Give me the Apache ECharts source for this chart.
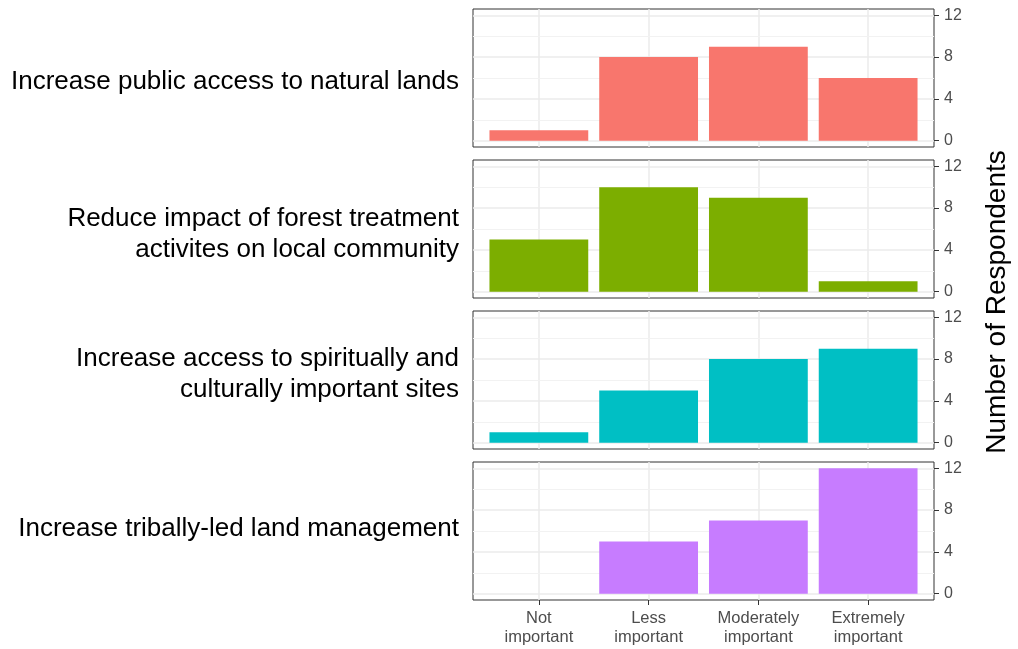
<!DOCTYPE html>
<html><head><meta charset="utf-8">
<script src="https://cdn.jsdelivr.net/npm/echarts@6/dist/echarts.min.js"></script>
<style>html,body{margin:0;padding:0;background:#fff}#c{width:1018px;height:649px}</style>
</head><body><div id="c"></div>
<script>
const categories = ['Not\nimportant', 'Less\nimportant', 'Moderately\nimportant', 'Extremely\nimportant'];
const panelLabels = [
  'Increase public access to natural lands',
  'Reduce impact of forest treatment\nactivites on local community',
  'Increase access to spiritually and\nculturally important sites',
  'Increase tribally-led land management'
];
const valuesPublicAccess = [1, 8, 9, 6];
const valuesForestImpact = [5, 10, 9, 1];
const valuesSpiritualSites = [1, 5, 8, 9];
const valuesTribalMgmt = [0, 5, 7, 12];
const panelValues = [valuesPublicAccess, valuesForestImpact, valuesSpiritualSites, valuesTribalMgmt];
const panelColors = ['#F8766D', '#7CAE00', '#00BFC4', '#C77CFF'];
const yTicks = [0, 4, 8, 12];
const yMinorTicks = [2, 6, 10];
const xTicks = [0, 1, 2, 3];
const yAxisTitle = 'Number of Respondents';

const panelTop = [9, 160, 311, 462];
const panelH = 138;
const labelCenterY = [82, 234, 374, 529];
const gridLeft = 473, gridRight = 84;
const FONT = '"Liberation Sans", Arial, sans-serif';

const grids = [], xAxes = [], yAxes = [], series = [], graphics = [];
panelValues.forEach((vals, p) => {
  grids.push({left: gridLeft, right: gridRight, top: panelTop[p], height: panelH,
    show: true, borderColor: '#333', borderWidth: 1, backgroundColor: 'transparent', containLabel: false});
  const isBottom = p === 3;
  xAxes.push({
    type: 'value', gridIndex: p, min: -0.6, max: 3.6, position: 'bottom',
    axisLine: {show: false, onZero: false},
    axisTick: {show: isBottom, customValues: xTicks, length: 5, lineStyle: {color: '#333', width: 1}},
    axisLabel: {show: isBottom, customValues: xTicks, color: '#4D4D4D', fontSize: 16.5,
      fontFamily: FONT, lineHeight: 19, margin: 9,
      formatter: v => (Number.isInteger(v) && categories[v] !== undefined) ? categories[v] : ''},
    splitLine: {show: true, lineStyle: {color: '#EBEBEB', width: 1.5}}
  });
  yAxes.push({
    type: 'value', gridIndex: p, min: -0.6, max: 12.6, position: 'right',
    axisLine: {show: false, onZero: false},
    axisTick: {show: true, customValues: yTicks, length: 5, lineStyle: {color: '#333', width: 1}},
    axisLabel: {show: true, customValues: yTicks, color: '#4D4D4D', fontSize: 16,
      fontFamily: FONT, margin: 10},
    splitLine: {show: true, lineStyle: {color: '#EBEBEB', width: 1.5}},
    z: 2
  });
  yAxes.push({
    type: 'value', gridIndex: p, min: -0.6, max: 12.6, position: 'right',
    axisLine: {show: false, onZero: false},
    axisTick: {show: false, customValues: yMinorTicks},
    axisLabel: {show: false, customValues: yMinorTicks},
    splitLine: {show: true, lineStyle: {color: '#F2F2F2', width: 1}},
    z: 1
  });
  series.push({
    type: 'bar', xAxisIndex: p, yAxisIndex: p * 2,
    data: vals.map((v, i) => [i, v]),
    barWidth: '90%',
    itemStyle: {color: panelColors[p]},
    silent: true, z: 5
  });
  graphics.push({
    type: 'text', x: 459, y: labelCenterY[p],
    style: {text: panelLabels[p], fill: '#000', font: '26px ' + FONT,
      textAlign: 'right', textVerticalAlign: 'middle', lineHeight: 31}
  });
});
graphics.push({
  type: 'text', x: 997, y: 302, rotation: Math.PI / 2,
  style: {text: yAxisTitle, fill: '#000', font: '28px ' + FONT,
    textAlign: 'center', textVerticalAlign: 'middle'}
});

const chart = echarts.init(document.getElementById('c'), null, {renderer: 'canvas'});
chart.setOption({
  animation: false,
  grid: grids, xAxis: xAxes, yAxis: yAxes, series: series, graphic: graphics
});
</script></body></html>
